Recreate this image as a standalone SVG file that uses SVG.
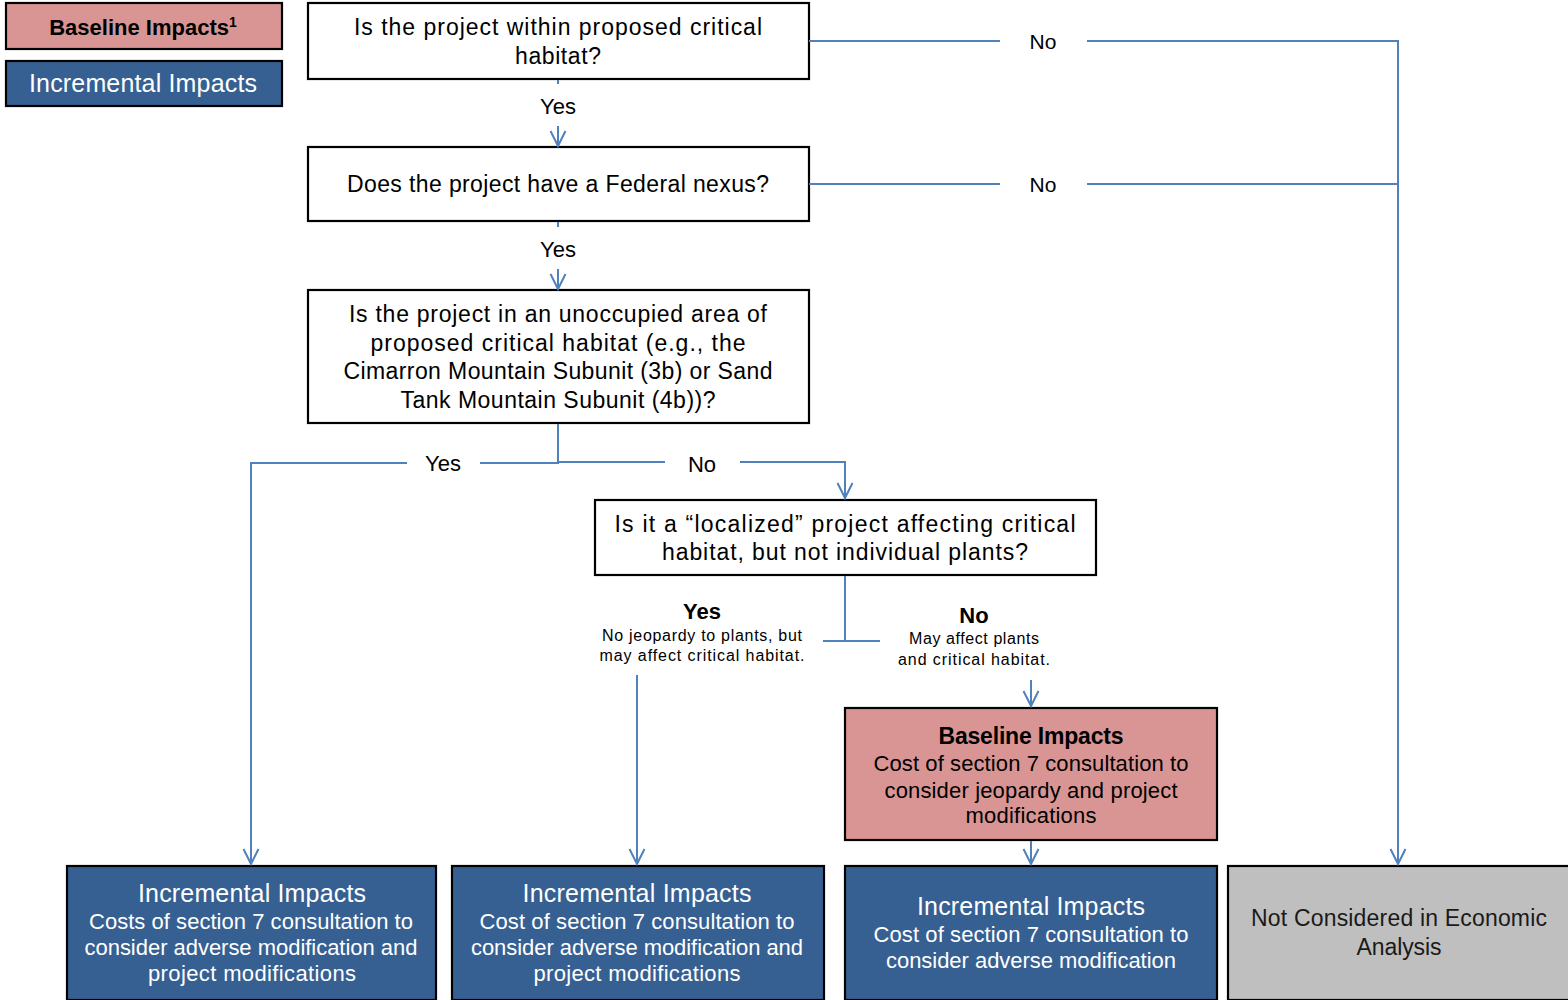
<svg xmlns="http://www.w3.org/2000/svg" width="1568" height="1000" viewBox="0 0 1568 1000">
<defs>
<marker id="arr" markerUnits="userSpaceOnUse" markerWidth="20" markerHeight="20" viewBox="-17 -10 19 20" refX="0" refY="0" orient="auto">
<path d="M-15,-7.5 L0,0 L-15,7.5" fill="none" stroke="#4F81BD" stroke-width="2"/>
</marker>
</defs>
<style>
text{font-family:"Liberation Sans",Arial,sans-serif;text-anchor:middle;}
.q{fill:#fff;stroke:#000;stroke-width:2.2}
.pink{fill:#D99594;stroke:#000;stroke-width:2.2}
.blue{fill:#366092;stroke:#000;stroke-width:2.2}
.grey{fill:#BFBFBF;stroke:#000;stroke-width:2.2}
.t{font-size:23px;fill:#000}
.tb{font-size:22px;fill:#000}
.w{font-size:22px;fill:#fff}
.wt{font-size:25px;fill:#fff}
.bt{font-size:23px;fill:#000;font-weight:bold}
.lab{font-size:22px;fill:#000}
.small{font-size:16px;fill:#000}
.c{fill:none;stroke:#4F81BD;stroke-width:2}
</style>
<rect width="1568" height="1000" fill="#fff"/>

<g id="legend-baseline">
<rect class="pink" x="6" y="3" width="276" height="46"/>
<text x="143" y="35" class="t" style="font-weight:bold;font-size:22px">Baseline Impacts<tspan font-size="14" dy="-8">1</tspan></text>
</g>
<g id="legend-incremental">
<rect class="blue" x="6" y="61" width="276" height="45"/>
<text x="143" y="92" class="wt" textLength="228" lengthAdjust="spacing">Incremental Impacts</text>
</g>

<g id="q1">
<rect class="q" x="308" y="3" width="501" height="76"/>
<text x="558" y="35" class="t" textLength="408" lengthAdjust="spacing">Is the project within proposed critical</text>
<text x="558" y="64" class="t" textLength="86" lengthAdjust="spacing">habitat?</text>
</g>
<g id="q2">
<rect class="q" x="308" y="147" width="501" height="74"/>
<text x="558" y="192" class="t" textLength="422" lengthAdjust="spacing">Does the project have a Federal nexus?</text>
</g>
<g id="q3">
<rect class="q" x="308" y="290" width="501" height="133"/>
<text x="558" y="322" class="t" textLength="418" lengthAdjust="spacing">Is the project in an unoccupied area of</text>
<text x="558" y="351" class="t" textLength="375" lengthAdjust="spacing">proposed critical habitat (e.g., the</text>
<text x="558" y="379" class="t" textLength="429" lengthAdjust="spacing">Cimarron Mountain Subunit (3b) or Sand</text>
<text x="558" y="408" class="t" textLength="315" lengthAdjust="spacing">Tank Mountain Subunit (4b))?</text>
</g>
<g id="q4">
<rect class="q" x="595" y="500" width="501" height="75"/>
<text x="845" y="532" class="t" textLength="461" lengthAdjust="spacing">Is it a “localized” project affecting critical</text>
<text x="845" y="560" class="t" textLength="366" lengthAdjust="spacing">habitat, but not individual plants?</text>
</g>
<g id="baseline">
<rect class="pink" x="845" y="708" width="372" height="132"/>
<text x="1031" y="744" class="bt" textLength="185" lengthAdjust="spacing">Baseline Impacts</text>
<text x="1031" y="771" class="tb" textLength="315" lengthAdjust="spacing">Cost of section 7 consultation to</text>
<text x="1031" y="798" class="tb" textLength="293" lengthAdjust="spacing">consider jeopardy and project</text>
<text x="1031" y="823" class="tb" textLength="131" lengthAdjust="spacing">modifications</text>
</g>
<g id="inc-a">
<rect class="blue" x="67" y="866" width="369" height="134"/>
<text x="252" y="902" class="wt" textLength="228" lengthAdjust="spacing">Incremental Impacts</text>
<text x="251" y="929" class="w" textLength="324" lengthAdjust="spacing">Costs of section 7 consultation to</text>
<text x="251" y="955" class="w" textLength="333" lengthAdjust="spacing">consider adverse modification and</text>
<text x="252" y="981" class="w" textLength="208" lengthAdjust="spacing">project modifications</text>
</g>
<g id="inc-b">
<rect class="blue" x="452" y="866" width="372" height="134"/>
<text x="637" y="902" class="wt" textLength="229" lengthAdjust="spacing">Incremental Impacts</text>
<text x="637" y="929" class="w" textLength="315" lengthAdjust="spacing">Cost of section 7 consultation to</text>
<text x="637" y="955" class="w" textLength="332" lengthAdjust="spacing">consider adverse modification and</text>
<text x="637" y="981" class="w" textLength="207" lengthAdjust="spacing">project modifications</text>
</g>
<g id="inc-c">
<rect class="blue" x="845" y="866" width="372" height="134"/>
<text x="1031" y="915" class="wt" textLength="228" lengthAdjust="spacing">Incremental Impacts</text>
<text x="1031" y="942" class="w" textLength="315" lengthAdjust="spacing">Cost of section 7 consultation to</text>
<text x="1031" y="968" class="w" textLength="290" lengthAdjust="spacing">consider adverse modification</text>
</g>
<g id="not-considered">
<rect class="grey" x="1228" y="866" width="342" height="134"/>
<text x="1399" y="926" class="t" style="fill:#1a1a1a" textLength="296" lengthAdjust="spacing">Not Considered in Economic</text>
<text x="1399" y="955" class="t" style="fill:#1a1a1a" textLength="85" lengthAdjust="spacing">Analysis</text>
</g>

<g id="connectors">
<line class="c" x1="558" y1="80" x2="558" y2="84"/>
<line class="c" x1="558" y1="126" x2="558" y2="146" marker-end="url(#arr)"/>
<line class="c" x1="558" y1="222" x2="558" y2="227"/>
<line class="c" x1="558" y1="269" x2="558" y2="289" marker-end="url(#arr)"/>
<polyline class="c" points="809,41 1000,41"/>
<polyline class="c" points="1087,41 1398,41 1398,864" marker-end="url(#arr)"/>
<polyline class="c" points="809,184 1000,184"/>
<polyline class="c" points="1087,184 1398,184"/>
<polyline class="c" points="558,424 558,463 480,463"/>
<polyline class="c" points="407,463 251,463 251,864" marker-end="url(#arr)"/>
<polyline class="c" points="558,462 665,462"/>
<polyline class="c" points="740,462 845,462 845,498" marker-end="url(#arr)"/>
<polyline class="c" points="845,576 845,641"/>
<polyline class="c" points="823,641 880,641"/>
<line class="c" x1="637" y1="675" x2="637" y2="864" marker-end="url(#arr)"/>
<line class="c" x1="1031" y1="680" x2="1031" y2="706" marker-end="url(#arr)"/>
<line class="c" x1="1031" y1="841" x2="1031" y2="864" marker-end="url(#arr)"/>
<text x="558" y="114" class="lab" textLength="36" lengthAdjust="spacing">Yes</text>
<text x="558" y="257" class="lab" textLength="36" lengthAdjust="spacing">Yes</text>
<text x="1043" y="49" class="lab" style="font-size:21px">No</text>
<text x="1043" y="192" class="lab" style="font-size:21px">No</text>
<text x="443" y="471" class="lab" textLength="36" lengthAdjust="spacing">Yes</text>
<text x="702" y="472" class="lab">No</text>
<text x="702" y="619" class="lab" style="font-weight:bold">Yes</text>
<text x="702" y="641" class="small" textLength="200" lengthAdjust="spacing">No jeopardy to plants, but</text>
<text x="702" y="661" class="small" textLength="205" lengthAdjust="spacing">may affect critical habitat.</text>
<text x="974" y="623" class="lab" style="font-weight:bold">No</text>
<text x="974" y="644" class="small" textLength="130" lengthAdjust="spacing">May affect plants</text>
<text x="974" y="665" class="small" textLength="152" lengthAdjust="spacing">and critical habitat.</text>
</g>
</svg>
